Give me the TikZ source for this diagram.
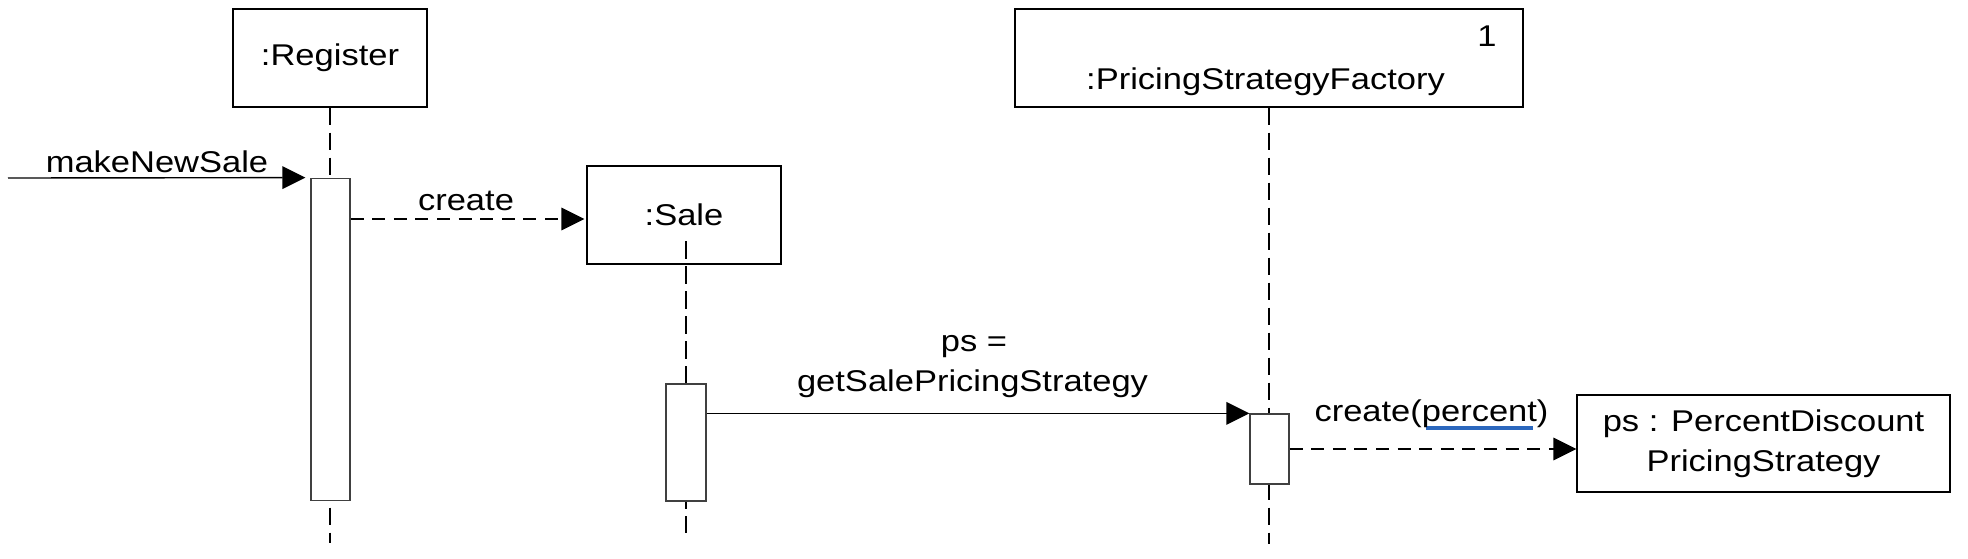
\documentclass[tikz,border=0pt]{standalone}
\usepackage{fontspec}
\setmainfont{Liberation Sans}[FakeStretch=1.15]
\usetikzlibrary{arrows.meta}
\definecolor{ulblue}{RGB}{44,104,190}
\newcommand\blueul[1]{\setbox0\hbox{#1}\rlap{\kern1.8pt\textcolor{ulblue}{\rule[-4.15pt]{\dimexpr\wd0-3.8pt\relax}{2pt}}}\box0}
\begin{document}
\begin{tikzpicture}[x=0.5pt,y=-0.5pt,
  every node/.style={font=\fontsize{15}{20}\selectfont, inner sep=0pt, text=black},
  objbox/.style={draw=black, line width=0.65pt, fill=white, minimum height=49pt},
  actbox/.style={draw=black!75, line width=0.65pt, fill=white, minimum width=19.5pt},
  lifeline/.style={draw=black, line width=0.85pt, dash pattern=on 8.75pt off 3.75pt},
  msg/.style={draw=black, line width=0.7pt, -{Triangle[length=11.5pt,width=11.3pt]}},
  msgdash/.style={msg, dash pattern=on 6.5pt off 4.3pt},
  lbl/.style={anchor=base}
]
\useasboundingbox (0,0) rectangle (1968,558);

% object boxes
\node[objbox, minimum width=97pt] (reg) at (330,58) {:Register};
\node[objbox, minimum width=97pt] (sale) at (684,215) {:Sale};
\node[objbox, minimum width=254pt] (fac) at (1269,58) {};
\node[lbl] (facname) at (1265.5,89) {:PricingStrategyFactory};
\node[anchor=base east] (facmult) at (1497,46.7) {1};
\node[objbox, minimum width=186.5pt, minimum height=48.5pt, align=center] (pds) at (1763.5,443.5) {ps : PercentDiscount\\PricingStrategy};

% lifeline end points
\coordinate (regEnd) at (330,543);
\coordinate (saleTop) at (686,241);
\coordinate (saleEnd) at (686,533);
\coordinate (facEnd) at (1269,544);
\coordinate (mnsStart) at (8,178);
\coordinate (c1) at (0,219);

% lifelines
\draw[lifeline] (reg.south) -- (regEnd);
\draw[lifeline] (saleTop) -- (saleEnd);
\draw[lifeline] (fac.south) -- (facEnd);

% activation bars
\node[actbox, minimum height=161.25pt] (actR) at (330.5,339.5) {};
\node[actbox, minimum width=20pt, minimum height=58.5pt] (actS) at (686,442.5) {};
\node[actbox, minimum height=35pt] (actF) at (1269.5,449) {};

% messages
\draw[msg, shorten >=2.5pt] (mnsStart) -- (actR.north west);
\node[lbl] (lmns) at (157,172.7) {makeNewSale};

\draw[msgdash, shorten >=1pt] (actR.east |- c1) -- (sale.west |- c1);
\node[lbl] (lcreate) at (466,210) {create};

\draw[msg] (actS.east |- actF.north) -- (actF.north west);
\node[lbl] (lps) at (974,351.7) {ps =};
\node[lbl] (lget) at (972.5,391.7) {getSalePricingStrategy};

\draw[msgdash] (actF.east) -- (pds.west |- actF.east);
\node[lbl] (lcp) at (1431.5,421.7) {create(\blueul{percent})};
\end{tikzpicture}
\end{document}
